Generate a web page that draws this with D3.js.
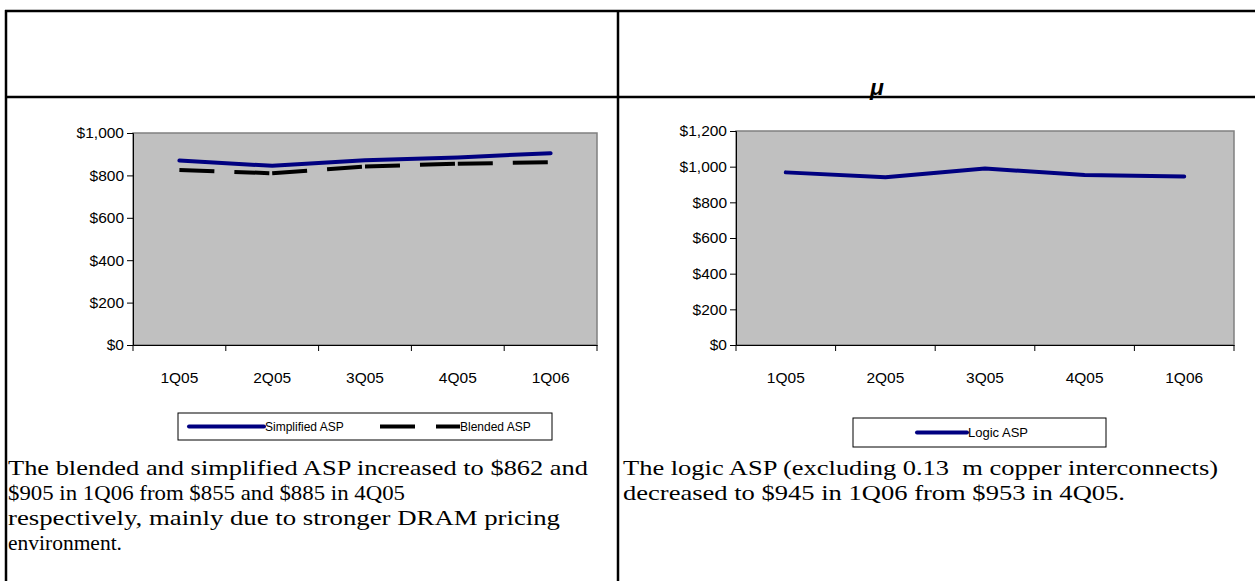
<!DOCTYPE html>
<html><head><meta charset="utf-8">
<script src="https://cdn.jsdelivr.net/npm/d3@7"></script>
<style>body{margin:0;background:#fff}svg{display:block}
.sans{font-family:'Liberation Sans',Arial,Helvetica,sans-serif}
.serif{font-family:'Liberation Serif','Times New Roman',Times,serif}
</style>
</head><body>
<script>
const categories = ["1Q05","2Q05","3Q05","4Q05","1Q06"];
const simplifiedASP = [870, 845, 872, 885, 905];
const blendedASP = [826, 810, 842, 855, 862];
const logicASP = [968, 940, 990, 953, 945];
const leftTicks = [0,200,400,600,800,1000];
const rightTicks = [0,200,400,600,800,1000,1200];
const leftText = ["The blended and simplified ASP increased to $862 and","$905 in 1Q06 from $855 and $885 in 4Q05","respectively, mainly due to stronger DRAM pricing","environment."];
const rightText = ["The logic ASP (excluding 0.13  m copper interconnects)","decreased to $945 in 1Q06 from $953 in 4Q05."];

const W=1255,H=581;
const svg=d3.select("body").append("svg").attr("width",W).attr("height",H);

// table lines
const tbl=svg.append("g").attr("stroke","#000").attr("stroke-width",2.5);
tbl.append("line").attr("x1",5).attr("x2",W).attr("y1",11).attr("y2",11);
tbl.append("line").attr("x1",5).attr("x2",W).attr("y1",97).attr("y2",97);
tbl.append("line").attr("x1",6).attr("x2",6).attr("y1",10).attr("y2",H);
tbl.append("line").attr("x1",618).attr("x2",618).attr("y1",10).attr("y2",H);
svg.append("text").attr("class","sans").attr("x",877).attr("y",95).attr("text-anchor","middle")
  .style("font-weight","bold").style("font-style","italic")
  .style("font-size","23px").text("μ");

const fmt=d=>"$"+d3.format(",")(d);
function chart(o){
  const g=svg.append("g");
  const x=d3.scaleBand().domain(categories).range([o.x0,o.x1]);
  const y=d3.scaleLinear().domain([0,o.max]).range([o.y1,o.y0]);
  g.append("rect").attr("x",o.x0).attr("y",o.y0).attr("width",o.x1-o.x0).attr("height",o.y1-o.y0)
    .attr("fill","#c0c0c0").attr("stroke","#808080").attr("stroke-width",1.5);
  const ya=g.append("g").attr("transform",`translate(${o.x0},0)`)
    .call(d3.axisLeft(y).tickValues(o.ticks).tickFormat(fmt).tickSize(6).tickPadding(3));
  const xa=g.append("g").attr("transform",`translate(0,${o.y1})`)
    .call(d3.axisBottom(x).tickSize(0).tickPadding(27));
  const bounds=categories.map(c=>x(c)).concat([o.x1]);
  g.selectAll(".bt").data(bounds).enter().append("line")
    .attr("x1",d=>d).attr("x2",d=>d).attr("y1",o.y1).attr("y2",o.y1+6).attr("stroke","#000").attr("stroke-width",1);
  [ya,xa].forEach(a=>{a.attr("font-family",null).attr("font-size",null).attr("class","sans");
    a.selectAll("text").style("font-size","15.5px").attr("fill","#000");
    a.select(".domain").attr("stroke","#000").attr("stroke-width",1);
    a.selectAll(".tick line").attr("stroke","#000");});
  const px=i=>x(categories[i])+x.bandwidth()/2;
  const line=d3.line().x(d=>px(d.i)).y(d=>y(d.v));
  o.series.forEach(s=>{
    const pts=s.values.map((v,i)=>({v,i}));
    if(s.dash){
      // dash pattern restarts at every data point, as in the original
      const segs=d3.pairs(pts);
      g.selectAll(null).data(segs).enter().append("path").attr("d",line).attr("fill","none")
        .attr("stroke",s.color).attr("stroke-width",4).attr("stroke-dasharray",s.dash);
    } else {
      g.append("path").datum(pts).attr("d",line).attr("fill","none").attr("stroke",s.color)
        .attr("stroke-width",4).attr("stroke-linejoin","round").attr("stroke-linecap","round");
    }
  });
  return g;
}
chart({x0:133,x1:597,y0:133,y1:345,max:1000,ticks:leftTicks,series:[
  {values:blendedASP,color:"#000",dash:"35,20"},
  {values:simplifiedASP,color:"#000080"}]});
chart({x0:736,x1:1234,y0:131,y1:345,max:1200,ticks:rightTicks,series:[
  {values:logicASP,color:"#000080"}]});

// legends
const L1=svg.append("g").attr("class","sans");
L1.append("rect").attr("x",178).attr("y",413).attr("width",374).attr("height",27).attr("fill","#fff").attr("stroke","#000").attr("stroke-width",1);
L1.append("line").attr("x1",189).attr("x2",264).attr("y1",426.5).attr("y2",426.5).attr("stroke","#000080").attr("stroke-width",4).attr("stroke-linecap","round");
L1.append("text").attr("x",265).attr("y",430.5).style("font-size","12px").text("Simplified ASP");
L1.append("line").attr("x1",380).attr("x2",460).attr("y1",426.5).attr("y2",426.5).attr("stroke","#000").attr("stroke-width",4).attr("stroke-dasharray","35,21");
L1.append("text").attr("x",460).attr("y",430.5).style("font-size","12px").text("Blended ASP");
const L2=svg.append("g").attr("class","sans");
L2.append("rect").attr("x",853).attr("y",418).attr("width",253).attr("height",29).attr("fill","#fff").attr("stroke","#000").attr("stroke-width",1);
L2.append("line").attr("x1",917).attr("x2",967).attr("y1",432.5).attr("y2",432.5).attr("stroke","#000080").attr("stroke-width",4).attr("stroke-linecap","round");
L2.append("text").attr("x",968).attr("y",437).style("font-size","13px").text("Logic ASP");

// paragraphs
const leftW=[580,397,552,114], rightW=[595,502];
leftText.forEach((t,i)=>svg.append("text").attr("class","serif").attr("x",8).attr("y",475+i*25)
  .style("font-size","21px").attr("textLength",leftW[i]).attr("lengthAdjust","spacingAndGlyphs").style("white-space","pre").text(t));
rightText.forEach((t,i)=>svg.append("text").attr("class","serif").attr("x",623).attr("y",475+i*25)
  .style("font-size","21px").attr("textLength",rightW[i]).attr("lengthAdjust","spacingAndGlyphs").style("white-space","pre").text(t));
</script>
</body></html>
